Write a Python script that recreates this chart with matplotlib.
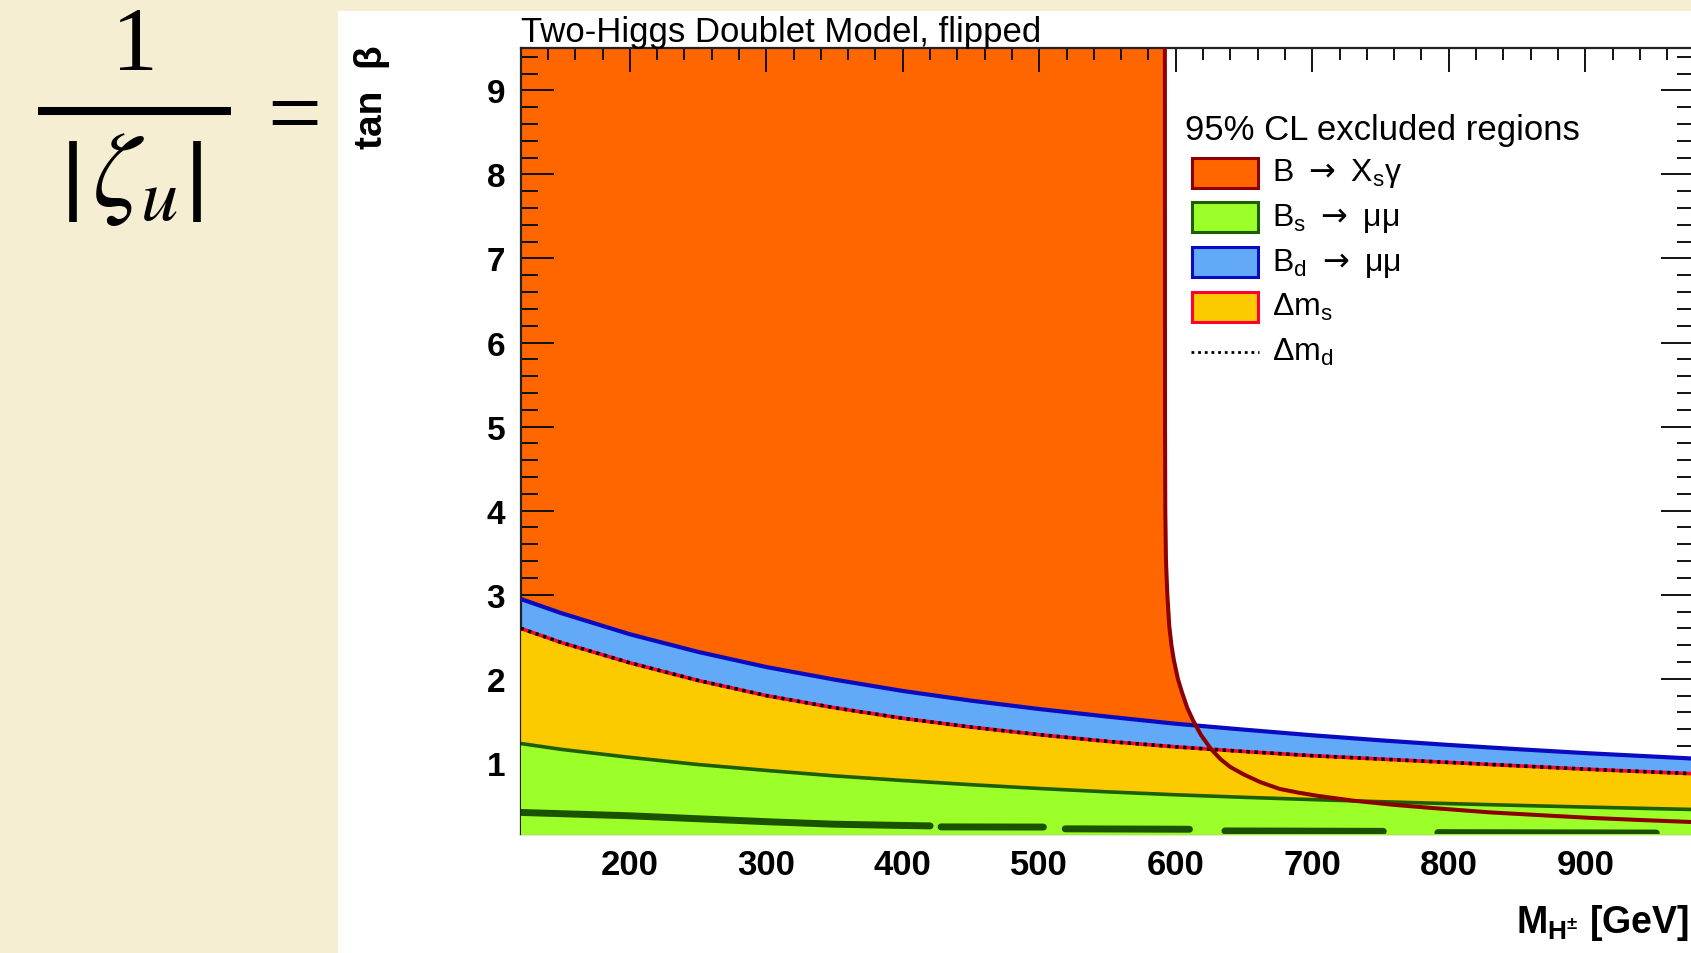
import matplotlib
matplotlib.use("Agg")
import matplotlib.pyplot as plt
from matplotlib.patches import Rectangle
from matplotlib.lines import Line2D
from matplotlib.ticker import MultipleLocator

plt.rcParams["font.family"] = ["Liberation Sans", "DejaVu Sans"]

# charged Higgs mass [GeV] and lower tan(beta) edge of each excluded band
mass = [120, 150, 200, 250, 300, 350, 400, 450, 500, 550, 600, 650, 700, 750, 800, 850, 900, 980]
bd_mumu = [2.95, 2.78, 2.53, 2.32, 2.14, 1.99, 1.855, 1.74, 1.64, 1.55, 1.465, 1.395, 1.328, 1.268,
           1.213, 1.163, 1.116, 1.05]
delta_ms = [2.60, 2.43, 2.19, 1.98, 1.80, 1.655, 1.53, 1.425, 1.335, 1.255, 1.19, 1.135, 1.085, 1.045,
            1.005, 0.965, 0.925, 0.87]
delta_md = [2.60, 2.43, 2.19, 1.98, 1.80, 1.655, 1.53, 1.425, 1.335, 1.255, 1.19, 1.135, 1.085, 1.045,
            1.005, 0.965, 0.925, 0.87]
bs_mumu = [1.23, 1.16, 1.065, 0.98, 0.91, 0.845, 0.79, 0.74, 0.695, 0.655, 0.62, 0.59, 0.563, 0.538,
           0.515, 0.494, 0.474, 0.445]

# b -> s gamma boundary, from the top of the frame down to the right edge
bsg_mass = [592.0, 592.1, 592.3, 592.8, 593.8, 595.2, 596.8, 598.5, 601.5, 604.5, 608.5, 612.8, 618.5,
            626, 633, 640, 650, 662, 676, 690, 705, 730, 760, 790, 831, 870, 904, 940, 980]
bsg_tanb = [9.5, 5.0, 4.0, 3.4, 3.0, 2.63, 2.4, 2.23, 2.0, 1.84, 1.65, 1.50, 1.33,
            1.16, 1.04, 0.95, 0.86, 0.77, 0.69, 0.645, 0.605, 0.55, 0.50, 0.46, 0.41, 0.375, 0.345, 0.32, 0.295]

# ragged dark-green islands of the B_s -> mumu contour near the bottom
islands_mass = [[120, 200, 300, 350, 400, 420], [428, 503], [519, 610], [636, 752], [792, 952]]
islands_tanb = [[0.41, 0.37, 0.30, 0.27, 0.255, 0.25], [0.238, 0.236], [0.215, 0.21], [0.19, 0.185], [0.17, 0.165]]

x_range = (120, 980)
y_range = (0.15, 9.5)

legend_labels = ["B $\\rightarrow$ X$_\\mathregular{s}$γ", "B$_\\mathregular{s}$ $\\rightarrow$ μμ",
                 "B$_\\mathregular{d}$ $\\rightarrow$ μμ", "Δm$_\\mathregular{s}$", "Δm$_\\mathregular{d}$"]
legend_fill = ["#ff6600", "#9cff2a", "#62aaf8", "#fbcb00", None]
legend_edge = ["#8c0000", "#1c5e00", "#0a0ac0", "#ff0033", "black"]

W, H = 1691, 954


# px(x, y) - converts pixel position (from top-left) to figure fraction
def px(x, y):
    return x / W, 1 - y / H


fig = plt.figure(figsize=(W / 100, H / 100), dpi=100, facecolor="#f6eed3")
fig.add_artist(Rectangle(px(338, H), 1 - 338 / W, 1 - 12 / H, transform=fig.transFigure,
                         facecolor="white", edgecolor="none", zorder=-1))

# formula on the slide, left of the plot
fig.text(*px(135, 70), "1", fontsize=66, family="Liberation Serif", ha="center", va="baseline")
fig.add_artist(Line2D([38 / W, 231 / W], [1 - 112 / H] * 2, lw=5.8, color="black",
                      solid_capstyle="butt", transform=fig.transFigure))
fig.text(*px(135, 206), r"$\zeta_u$", fontsize=77, math_fontfamily="stix", ha="center", va="baseline")
for bx in (73, 197):
    fig.add_artist(Line2D([bx / W] * 2, [1 - 142 / H, 1 - 223 / H], lw=5.5, color="black",
                          solid_capstyle="butt", transform=fig.transFigure))
fig.text(*px(294, 145), "=", fontsize=69, family="Liberation Serif", ha="center", va="baseline")

left, right, top, bottom = 520.6, 1694.5, 49.3, 835.3
ax = fig.add_axes([left / W, 1 - bottom / H, (right - left) / W, (bottom - top) / H])
ax.set_facecolor("white")

# B -> Xs gamma: everything left of / below its boundary, covered afterwards by the other bands
ax.fill([x_range[0]] + bsg_mass + [x_range[1], x_range[0]],
        [y_range[1]] + bsg_tanb + [y_range[0], y_range[0]], color="#ff6600", lw=0, zorder=1)
ax.fill_between(mass, y_range[0], bd_mumu, color="#62aaf8", lw=0, zorder=2)
ax.fill_between(mass, y_range[0], delta_ms, color="#fbcb00", lw=0, zorder=3)
ax.fill_between(mass, y_range[0], bs_mumu, color="#9cff2a", lw=0, zorder=4)

ax.plot(mass, bd_mumu, color="#0a0ac0", lw=3, zorder=5)
ax.plot(mass, delta_ms, color="#ff0033", lw=2.6, zorder=5)
ax.plot(mass, delta_md, color="black", lw=2.6, ls=(0, (0.9, 1.3)), zorder=6)
ax.plot(mass, bs_mumu, color="#1c5e00", lw=2.6, zorder=5)
for im, it in zip(islands_mass, islands_tanb):
    ax.plot(im, it, color="#1a5200", lw=5, solid_capstyle="round", zorder=6)
ax.plot(bsg_mass, bsg_tanb, color="#8c0000", lw=2.9, zorder=7)

ax.set_xlim(*x_range)
ax.set_ylim(*y_range)
ax.set_xticks(range(200, 1000, 100))
ax.set_yticks(range(1, 10))
ax.xaxis.set_minor_locator(MultipleLocator(20))
ax.yaxis.set_minor_locator(MultipleLocator(0.2))
ax.tick_params(which="both", direction="in", top=True, right=True, width=1.4, color="#111111")
ax.tick_params(axis="x", which="major", length=17, pad=10, labelsize=25)
ax.tick_params(axis="x", which="minor", length=8.6)
ax.tick_params(axis="y", which="major", length=24, pad=11, labelsize=24)
ax.tick_params(axis="y", which="minor", length=12)
for lab in ax.get_xticklabels() + ax.get_yticklabels():
    lab.set_fontweight("bold")
for sp in ax.spines.values():
    sp.set_linewidth(1.6)
    sp.set_color("#222222")

ax.set_title("Two-Higgs Doublet Model, flipped", loc="left", fontsize=25, pad=3)
ax.set_ylabel("tan  β", fontsize=28, fontweight="bold", ha="center", va="center")
ax.yaxis.set_label_coords(-0.1262, 0.9385)
ax.set_xlabel("M$_\\mathregular{H^{±}}$ [GeV]", fontsize=27, fontweight="bold", loc="right", va="top")
ax.xaxis.set_label_coords(0.9953, -0.086)

# legend drawn by hand to keep the rows evenly spaced
fig.text(*px(1185, 140), "95% CL excluded regions", fontsize=25, va="baseline")
for i, (lab, fc, ec) in enumerate(zip(legend_labels, legend_fill, legend_edge)):
    yc = 173.5 + 44.8 * i
    if fc is None:
        fig.add_artist(Line2D([1191 / W, 1259 / W], [1 - yc / H] * 2, color=ec, lw=2,
                              ls=(0, (1, 1.4)), transform=fig.transFigure))
    else:
        fig.add_artist(Rectangle(px(1192, yc + 15), 66 / W, 30 / H, transform=fig.transFigure,
                                 facecolor=fc, edgecolor=ec, lw=2.2))
    fig.text(*px(1272, yc + 8), lab, fontsize=23, va="baseline")

fig.savefig("out.png", dpi=100, facecolor=fig.get_facecolor())
